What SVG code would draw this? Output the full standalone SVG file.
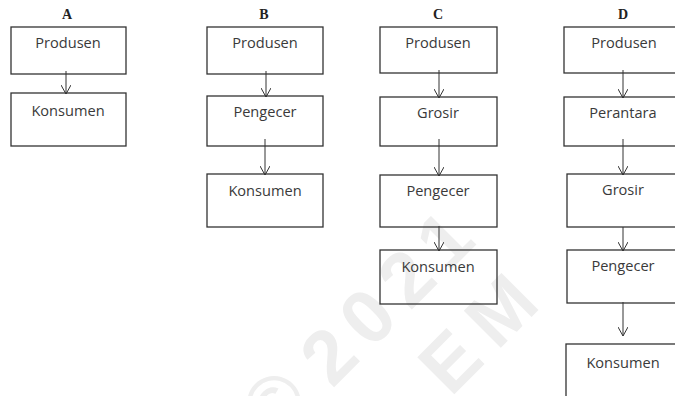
<svg xmlns="http://www.w3.org/2000/svg" width="675" height="396" viewBox="0 0 675 396">
  <defs>
    <marker id="vhead" viewBox="0 0 10 10" refX="9" refY="5" markerWidth="10" markerHeight="10" markerUnits="userSpaceOnUse" orient="auto">
      <path d="M0,0 L9,5 L0,10" fill="none" stroke="#333" stroke-width="1"/>
    </marker>
  </defs>
  <style>
    .box { fill: none; stroke: #333; stroke-width: 1.3; }
    .lbl { font-family: "Open Sans", "Noto Sans", sans-serif; font-size: 14.6px; fill: #3a3a3a; text-anchor: middle; }
    .ttl { font-family: "Liberation Serif", serif; font-weight: bold; font-size: 14px; fill: #222; text-anchor: middle; }
    .wm { font-family: "Liberation Sans", sans-serif; font-weight: bold; font-size: 76px; fill: #eeeeee; text-anchor: middle; }
    .arr { stroke: #333; stroke-width: 1; fill: none; marker-end: url(#vhead); }
  </style>
  <rect width="675" height="396" fill="#fff"/>

  <!-- faint background watermark -->
  <g id="watermark" transform="translate(328,355) rotate(-45)">
    <text class="wm" x="-72" y="22">©</text>
    <text class="wm" x="0 55 110 164" y="27">2021</text>
    <text class="wm" x="82 154" y="117">EM</text>
  </g>

  <!-- column titles -->
  <g id="titles">
    <text class="ttl" x="67" y="19">A</text>
    <text class="ttl" x="264" y="19">B</text>
    <text class="ttl" x="438" y="19">C</text>
    <text class="ttl" x="623" y="19">D</text>
  </g>

  <!-- column A -->
  <g id="a-produsen"><rect class="box" x="11" y="27" width="115" height="47"/><text class="lbl" x="68" y="48">Produsen</text></g>
  <g id="a-konsumen"><rect class="box" x="11" y="93" width="115" height="53"/><text class="lbl" x="68" y="116">Konsumen</text></g>

  <!-- column B -->
  <g id="b-produsen"><rect class="box" x="207" y="27" width="116" height="47"/><text class="lbl" x="265" y="48">Produsen</text></g>
  <g id="b-pengecer"><rect class="box" x="207" y="96" width="116" height="50"/><text class="lbl" x="265" y="117">Pengecer</text></g>
  <g id="b-konsumen"><rect class="box" x="207" y="174" width="116" height="53"/><text class="lbl" x="265" y="196">Konsumen</text></g>

  <!-- column C -->
  <g id="c-produsen"><rect class="box" x="380" y="27" width="117" height="46"/><text class="lbl" x="438" y="48">Produsen</text></g>
  <g id="c-grosir"><rect class="box" x="380" y="97" width="117" height="49"/><text class="lbl" x="438" y="118">Grosir</text></g>
  <g id="c-pengecer"><rect class="box" x="380" y="175" width="117" height="52"/><text class="lbl" x="438" y="196">Pengecer</text></g>
  <g id="c-konsumen"><rect class="box" x="380" y="250" width="117" height="54"/><text class="lbl" x="438" y="272">Konsumen</text></g>

  <!-- column D -->
  <g id="d-produsen"><rect class="box" x="564" y="27" width="114" height="46"/><text class="lbl" x="624" y="48">Produsen</text></g>
  <g id="d-perantara"><rect class="box" x="564" y="97" width="114" height="49"/><text class="lbl" x="623" y="118">Perantara</text></g>
  <g id="d-grosir"><rect class="box" x="567" y="174" width="111" height="53"/><text class="lbl" x="623" y="195">Grosir</text></g>
  <g id="d-pengecer"><rect class="box" x="567" y="250" width="111" height="53"/><text class="lbl" x="623" y="271">Pengecer</text></g>
  <g id="d-konsumen"><rect class="box" x="566" y="344" width="112" height="54"/><text class="lbl" x="623" y="368">Konsumen</text></g>

  <!-- connectors -->
  <g id="connectors">
    <line class="arr" x1="66" y1="71" x2="66" y2="94"/>
    <line class="arr" x1="266" y1="71" x2="266" y2="97"/>
    <line class="arr" x1="265" y1="139" x2="265" y2="175"/>
    <line class="arr" x1="439" y1="70" x2="439" y2="98"/>
    <line class="arr" x1="439" y1="139" x2="439" y2="176"/>
    <line class="arr" x1="439" y1="226" x2="439" y2="251"/>
    <line class="arr" x1="623" y1="70" x2="623" y2="98"/>
    <line class="arr" x1="623" y1="139" x2="623" y2="175"/>
    <line class="arr" x1="623" y1="227" x2="623" y2="251"/>
    <line class="arr" x1="623" y1="302" x2="623" y2="336"/>
  </g>
</svg>
